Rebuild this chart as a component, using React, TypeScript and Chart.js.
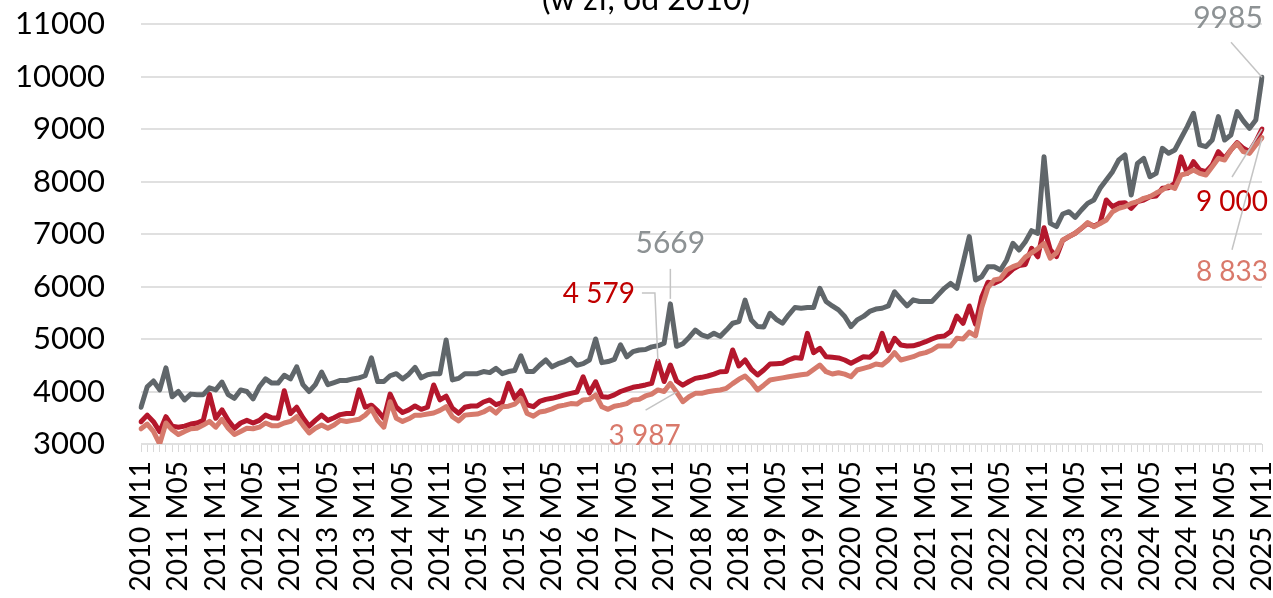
import React, { useEffect, useRef } from "react";
import { Chart, registerables } from "chart.js";

Chart.register(...registerables);

// Category labels: monthly, 2010 M11 .. 2025 M11
const START_YEAR = 2010;
const START_MONTH = 11;
const MONTH_COUNT = 181;
const months: string[] = [];
for (let i = 0; i < MONTH_COUNT; i++) {
  const m = START_MONTH - 1 + i;
  const y = START_YEAR + Math.floor(m / 12);
  const mm = (m % 12) + 1;
  months.push(`${y} M${String(mm).padStart(2, "0")}`);
}

const yTicks = [3000, 4000, 5000, 6000, 7000, 8000, 9000, 10000, 11000];

const grayValues = [
  3700, 4090, 4200, 4030, 4450, 3900, 4000, 3840, 3950, 3940, 3940, 4070, 4030, 4180, 3940, 3870, 4030, 4000, 3860, 4090,
  4240, 4160, 4160, 4310, 4240, 4470, 4130, 4000, 4130, 4370, 4130, 4170, 4210, 4210, 4240, 4260, 4300, 4640, 4190, 4190,
  4300, 4340, 4240, 4330, 4460, 4260, 4320, 4340, 4340, 4980, 4220, 4250, 4340, 4340, 4340, 4380, 4360, 4440, 4340, 4380,
  4400, 4680, 4380, 4380, 4500, 4600, 4470, 4530, 4570, 4630, 4500, 4530, 4600, 5000, 4550, 4570, 4610, 4890, 4660, 4760,
  4790, 4800, 4850, 4870, 4920, 5669, 4860, 4910, 5030, 5170, 5080, 5040, 5110, 5050, 5170, 5300, 5330, 5740, 5360, 5240,
  5230, 5490, 5375, 5300, 5460, 5600, 5585, 5600, 5600, 5965, 5715, 5630, 5555, 5430, 5235, 5365, 5430, 5525, 5570, 5585,
  5630, 5900, 5760, 5630, 5745, 5715, 5715, 5715, 5840, 5965, 6060, 5965, 6450, 6950, 6124, 6187, 6377, 6377, 6314, 6505,
  6823, 6695, 6854, 7063, 7012, 8473, 7203, 7140, 7381, 7425, 7317, 7457, 7584, 7648, 7870, 8028, 8187, 8410, 8505, 7743,
  8346, 8441, 8092, 8155, 8632, 8537, 8600, 8823, 9046, 9298, 8696, 8664, 8790, 9235, 8790, 8886, 9330, 9156, 9013, 9170,
  9985,
];

const redValues = [
  3425, 3550, 3425, 3235, 3520, 3340, 3320, 3340, 3380, 3400, 3450, 3950, 3490, 3650, 3450, 3300, 3400, 3450, 3400, 3450,
  3550, 3500, 3490, 4015, 3580, 3700, 3500, 3340, 3450, 3550, 3450, 3500, 3560, 3580, 3580, 4030, 3700, 3740, 3630, 3490,
  3950, 3700, 3600, 3650, 3725, 3660, 3700, 4125, 3840, 3910, 3680, 3585, 3700, 3725, 3725, 3800, 3840, 3750, 3790, 4155,
  3870, 4015, 3745, 3710, 3810, 3850, 3870, 3900, 3935, 3965, 3990, 4280, 3975, 4185, 3900, 3890, 3935, 4000, 4040, 4080,
  4100, 4125, 4155, 4579, 4190, 4505, 4200, 4120, 4190, 4250, 4270, 4295, 4330, 4377, 4380, 4790, 4486, 4600, 4422, 4314,
  4410, 4524, 4530, 4537, 4600, 4645, 4632, 5108, 4740, 4822, 4663, 4651, 4640, 4600, 4540, 4600, 4663, 4651, 4759, 5108,
  4780, 5013, 4886, 4867, 4870, 4905, 4949, 5000, 5044, 5057, 5140, 5438, 5298, 5629, 5280, 5800, 6080, 6060, 6120, 6220,
  6330, 6400, 6420, 6727, 6565, 7120, 6700, 6570, 6880, 6950, 7013, 7108, 7203, 7150, 7210, 7648, 7521, 7584, 7597, 7489,
  7616, 7648, 7711, 7724, 7870, 7880, 7965, 8470, 8155, 8378, 8219, 8187, 8314, 8568, 8441, 8600, 8740, 8632, 8568, 8759,
  9000,
];

const salmonValues = [
  3290, 3380, 3240, 3000, 3400, 3270, 3180, 3240, 3290, 3300, 3360, 3430, 3320, 3470, 3300, 3180, 3240, 3300, 3290, 3320,
  3400, 3350, 3350, 3400, 3430, 3520, 3360, 3210, 3300, 3360, 3300, 3360, 3450, 3430, 3450, 3470, 3550, 3670, 3450, 3320,
  3805, 3490, 3430, 3480, 3550, 3550, 3570, 3590, 3640, 3710, 3520, 3440, 3550, 3560, 3570, 3610, 3680, 3590, 3710, 3720,
  3760, 3870, 3580, 3530, 3610, 3630, 3670, 3720, 3740, 3770, 3760, 3840, 3850, 3935, 3710, 3660, 3720, 3740, 3770, 3840,
  3850, 3915, 3950, 4030, 4000, 4155, 3987, 3806, 3900, 3965, 3965, 3996, 4015, 4029, 4060, 4150, 4232, 4295, 4180, 4029,
  4120, 4219, 4240, 4260, 4282, 4300, 4320, 4333, 4420, 4505, 4377, 4333, 4358, 4330, 4282, 4410, 4441, 4473, 4524, 4505,
  4600, 4740, 4600, 4632, 4663, 4714, 4740, 4790, 4867, 4867, 4867, 5013, 5000, 5130, 5060, 5600, 5980, 6124, 6150, 6314,
  6377, 6420, 6560, 6640, 6720, 6820, 6540, 6640, 6886, 6950, 7013, 7108, 7220, 7140, 7200, 7267, 7425, 7489, 7521, 7584,
  7616, 7680, 7711, 7780, 7838, 7915, 7870, 8124, 8155, 8219, 8155, 8124, 8283, 8441, 8410, 8600, 8727, 8568, 8536, 8695,
  8833,
];

const TITLE_TEXT = "(w zł, od 2010)";

const GRAY = "#60666a";
const RED = "#b4172c";
const SALMON = "#d67a6c";
const GRAY_TXT = "#8d9294";
const RED_TXT = "#c00000";
const SALMON_TXT = "#d9796b";
const LEADER = "#c4c4c4";
const FONT = "Lato, 'Noto Sans', sans-serif";

type Annot = {
  dataset: number;
  index: number;
  text: string;
  color: string;
  size: number;
  dx: number;
  dy: number;
  leader: number[][];
};

const annotations: Annot[] = [
  { dataset: 0, index: 180, text: "9985", color: GRAY_TXT, size: 30, dx: -34, dy: -59, leader: [[-31, -35], [0, 0]] },
  { dataset: 0, index: 85, text: "5669", color: GRAY_TXT, size: 30, dx: 0, dy: -61, leader: [[0, -35], [0, -5]] },
  { dataset: 1, index: 83, text: "4 579", color: RED_TXT, size: 28, dx: -59, dy: -67, leader: [[-16, -68], [-3, -68], [0, 0]] },
  { dataset: 2, index: 86, text: "3 987", color: SALMON_TXT, size: 28, dx: -32, dy: 44, leader: [[-31, 18], [0, 0]] },
  { dataset: 1, index: 180, text: "9 000", color: RED_TXT, size: 28, dx: -30, dy: 73, leader: [[-30, 48], [0, 0]] },
  { dataset: 2, index: 180, text: "8 833", color: SALMON_TXT, size: 28, dx: -30, dy: 134, leader: [[-30, 112], [0, 0]] },
];

const annotationPlugin = {
  id: "valueAnnotations",
  afterDatasetsDraw(chart: any) {
    const ctx = chart.ctx;
    const xs = chart.scales.x;
    const ys = chart.scales.y;
    ctx.save();
    for (const a of annotations) {
      const v = chart.data.datasets[a.dataset].data[a.index];
      const px = xs.getPixelForValue(a.index);
      const py = ys.getPixelForValue(v);
      ctx.strokeStyle = LEADER;
      ctx.lineWidth = 1.5;
      ctx.beginPath();
      a.leader.forEach((p, i) => {
        if (i === 0) ctx.moveTo(px + p[0], py + p[1]);
        else ctx.lineTo(px + p[0], py + p[1]);
      });
      ctx.stroke();
      ctx.fillStyle = a.color;
      ctx.font = `${a.size}px ${FONT}`;
      ctx.textAlign = "center";
      ctx.textBaseline = "middle";
      ctx.fillText(a.text, px + a.dx, py + a.dy);
    }
    ctx.restore();
  },
};

const titlePlugin = {
  id: "cutTitle",
  afterDraw(chart: any) {
    const ctx = chart.ctx;
    ctx.save();
    ctx.fillStyle = "#000000";
    ctx.font = `32px ${FONT}`;
    ctx.textAlign = "center";
    ctx.textBaseline = "alphabetic";
    ctx.fillText(TITLE_TEXT, 646, 10);
    ctx.restore();
  },
};

export default function App() {
  const canvasRef = useRef<HTMLCanvasElement | null>(null);

  useEffect(() => {
    if (!canvasRef.current) return;
    const chart = new Chart(canvasRef.current, {
      type: "line",
      data: {
        labels: months,
        datasets: [
          {
            label: "gray",
            data: grayValues,
            borderColor: GRAY,
            borderWidth: 5,
            pointRadius: 0,
            tension: 0,
            borderJoinStyle: "round",
            borderCapStyle: "round",
            order: 0,
          },
          {
            label: "red",
            data: redValues,
            borderColor: RED,
            borderWidth: 5,
            pointRadius: 0,
            tension: 0,
            borderJoinStyle: "round",
            borderCapStyle: "round",
            order: 2,
          },
          {
            label: "salmon",
            data: salmonValues,
            borderColor: SALMON,
            borderWidth: 5,
            pointRadius: 0,
            tension: 0,
            borderJoinStyle: "round",
            borderCapStyle: "round",
            order: 1,
          },
        ],
      },
      options: {
        animation: false,
        responsive: true,
        maintainAspectRatio: false,
        devicePixelRatio: 1,
        layout: { padding: { top: 24, right: 11, left: 0, bottom: 0 } },
        plugins: {
          legend: { display: false },
          tooltip: { enabled: false },
          title: { display: false },
        },
        scales: {
          x: {
            type: "category",
            offset: false,
            border: { display: false },
            grid: {
              display: true,
              drawOnChartArea: false,
              drawTicks: true,
              tickLength: 8,
              color: "#d9d9d9",
              lineWidth: 1,
            },
            ticks: {
              autoSkip: false,
              minRotation: 90,
              maxRotation: 90,
              padding: 9,
              color: "#000000",
              font: { family: FONT, size: 28 },
              callback: (_v: any, i: number) => (i % 6 === 0 ? months[i] : ""),
            },
            afterFit: (scale: any) => {
              scale.height = 154;
              scale.paddingLeft = 0;
              scale.paddingRight = 0;
            },
          },
          y: {
            min: yTicks[0],
            max: yTicks[yTicks.length - 1],
            border: { display: false },
            grid: { color: "#e0e0e0", lineWidth: 2, drawTicks: false },
            afterBuildTicks: (scale: any) => {
              scale.ticks = yTicks.map((v) => ({ value: v }));
            },
            ticks: {
              padding: 36,
              color: "#000000",
              font: { family: FONT, size: 31 },
              callback: (v: any) => String(v),
            },
            afterFit: (scale: any) => {
              scale.width = 141;
              scale.paddingTop = 0;
              scale.paddingBottom = 0;
            },
          },
        },
      },
      plugins: [annotationPlugin, titlePlugin],
    });
    return () => chart.destroy();
  }, []);

  return (
    <div style={{ position: "fixed", left: 0, top: 0, width: 1273, height: 598, background: "#ffffff" }}>
      <canvas ref={canvasRef} />
    </div>
  );
}
